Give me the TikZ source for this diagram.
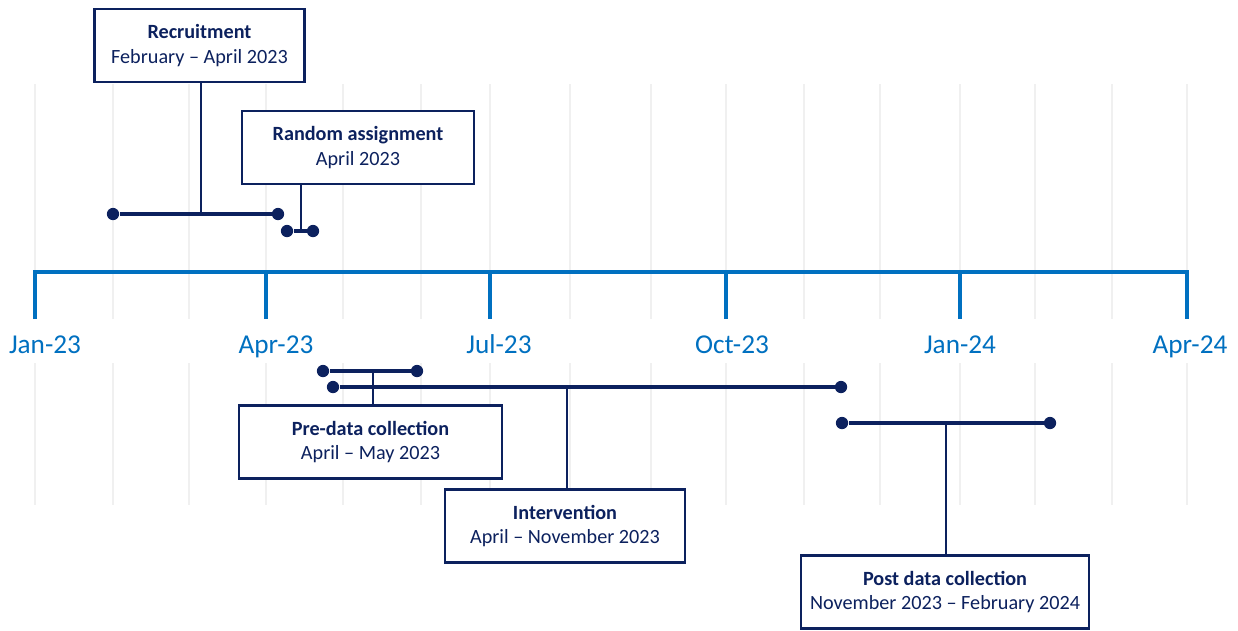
\documentclass[tikz,border=0pt]{standalone}
\usepackage{fontspec}
\setmainfont{Carlito}
\definecolor{navy}{RGB}{12,33,94}
\definecolor{axisblue}{RGB}{0,112,192}
\definecolor{gridgray}{RGB}{240,240,240}

\begin{document}
\begin{tikzpicture}[x=0.02cm,y=-0.02cm,
  phase/.style={draw=navy, line width=1.6pt, fill=white, text=navy, align=center,
    minimum height=1.46cm, font=\fontsize{11.5}{14}\selectfont},
  dot/.style={circle, fill=navy, inner sep=0pt, minimum size=7pt},
  bar/.style={draw=navy, line width=2.6pt},
  stem/.style={draw=navy, line width=0.8pt},
  grid/.style={draw=gridgray, line width=1.2pt},
  month/.style={text=axisblue, anchor=base, font=\fontsize{15.5}{18}\selectfont}]
\useasboundingbox (0,0) rectangle (1238,630);

% monthly grid
\foreach \gx in {35,113,189,266,343,421,490,570,651,726,804,880,960,1035,1112,1187} {
  \path[grid] (\gx,84) -- (\gx,319);
  \path[grid] (\gx,363) -- (\gx,505);
}

% time axis
\path[draw=axisblue,line width=2.3pt] (35,319) -- (35,272) -- (1187,272) -- (1187,319);
\foreach \tx/\lx/\lab [count=\i] in {35/45/Jan-23,266/276/Apr-23,490/499/Jul-23,
    726/732/Oct-23,960/960/Jan-24,1187/1190/Apr-24} {
  \path[draw=axisblue,line width=2.3pt] (\tx,272) -- (\tx,319);
  \node[month] (m\i) at (\lx,353) {\lab};
}

% boxes
\node[phase, minimum width=4.2cm] (rec) at (199.5,45.5) {\textbf{Recruitment}\\February -- April 2023};
\node[phase, minimum width=4.64cm] (ra) at (358,147.5) {\textbf{Random assignment}\\April 2023};
\node[phase, minimum width=5.26cm] (pre) at (370.5,442) {\textbf{Pre-data collection}\\April -- May 2023};
\node[phase, minimum width=4.8cm] (int) at (565,526) {\textbf{Intervention}\\April -- November 2023};
\node[phase, minimum width=5.76cm] (post) at (945,592) {\textbf{Post data collection}\\November 2023 -- February 2024};

% periods
\node[dot] (rec1) at (113,214) {};
\node[dot] (rec2) at (278,214) {};
\node[dot] (ra1) at (287,231) {};
\node[dot] (ra2) at (313,231) {};
\node[dot] (pre1) at (323,371) {};
\node[dot] (pre2) at (417,371) {};
\node[dot] (int1) at (333,387) {};
\node[dot] (int2) at (841,387) {};
\node[dot] (post1) at (842,423) {};
\node[dot] (post2) at (1050,423) {};

\coordinate (recm) at (201,214);
\coordinate (ram) at (301,231);
\coordinate (prem) at (373,371);
\coordinate (intm) at (567,387);
\coordinate (postm) at (946,423);

\path[stem] (recm) -- (recm |- rec.south);
\path[stem] (ram) -- (ram |- ra.south);
\path[stem] (prem) -- (prem |- pre.north);
\path[stem] (intm) -- (intm |- int.north);
\path[stem] (postm) -- (postm |- post.north);

\path[bar] (rec1) -- (rec2);
\path[bar] (ra1) -- (ra2);
\path[bar] (pre1) -- (pre2);
\path[bar] (int1) -- (int2);
\path[bar] (post1) -- (post2);
\end{tikzpicture}
\end{document}
